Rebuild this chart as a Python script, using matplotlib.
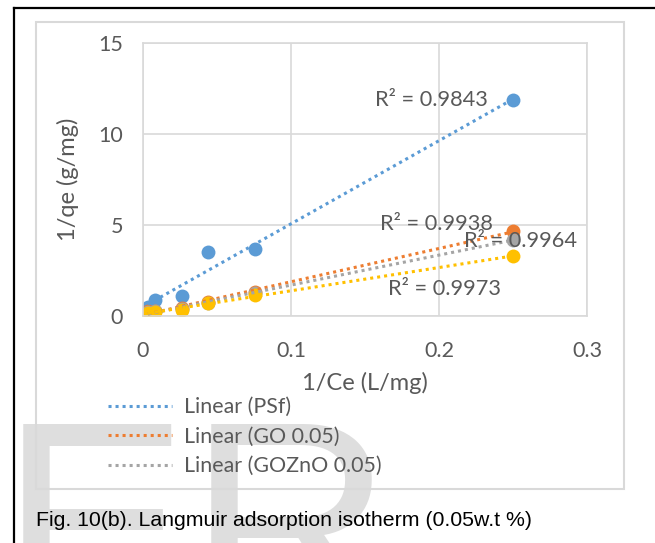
import numpy as np
import matplotlib
matplotlib.use('Agg')
from matplotlib import pyplot as plt
from matplotlib.patches import Rectangle
from matplotlib.lines import Line2D

# data
x = [0.0034, 0.0079, 0.0262, 0.0436, 0.0758, 0.25]
psf = [0.51, 0.88, 1.10, 3.53, 3.66, 11.89]
go = [0.25, 0.30, 0.45, 0.75, 1.33, 4.68]
goznO = [0.20, 0.25, 0.40, 0.72, 1.25, 4.20]
other = [0.18, 0.22, 0.33, 0.70, 1.14, 3.29]

names = ['PSf', 'GO 0.05', 'GOZnO 0.05', 'Series4']
series = [psf, go, goznO, other]
colors = ['#5b9bd5', '#ed7d31', '#a5a5a5', '#ffc000']
r2_text = ['R² = 0.9843', 'R² = 0.9938', 'R² = 0.9964', 'R² = 0.9973']
r2_pos = [(0.195, 11.85), (0.1984, 5.05), (0.2549, 4.13), (0.2035, 1.46)]

plt.rcParams['font.family'] = ['Lato', 'DejaVu Sans']
txt = '#595959'
grid = '#d9d9d9'

fig = plt.figure(figsize=(6.55, 5.43), dpi=100)
fig.patch.set_facecolor('white')

# watermark
fig.text(0.0, -0.14, 'ER', fontsize=204, color='#dedede',
         family='Liberation Sans', ha='left', va='baseline', zorder=0)

ax = fig.add_axes([0.2183, 0.4180, 0.6779, 0.5028])
ax.set_facecolor('none')
ax.set_xlim(0, 0.3)
ax.set_ylim(0, 15)
ax.set_xticks([0, 0.1, 0.2, 0.3])
ax.set_xticklabels(['0', '0.1', '0.2', '0.3'])
ax.set_yticks([0, 5, 10, 15])
ax.grid(True, color=grid, lw=1.2)
ax.set_axisbelow(True)
for s in ax.spines.values():
    s.set_color(grid)
    s.set_linewidth(1.2)
ax.tick_params(length=0, labelsize=15.5, labelcolor=txt)
ax.tick_params(axis='x', pad=18)
ax.tick_params(axis='y', pad=14.5)

xs = np.array(x)
handles = []
for i in range(4):
    ys = np.array(series[i])
    ax.scatter(xs, ys, s=100, color=colors[i], zorder=2 + i * 0.1, linewidths=0)
for i in range(4):
    ys = np.array(series[i])
    k, b = np.polyfit(xs, ys, 1)
    xx = np.array([xs.min(), xs.max()])
    ax.plot(xx, k * xx + b, color=colors[i], lw=2.2, ls=(0, (1, 1.3)), zorder=4)
    handles.append(Line2D([], [], color=colors[i], lw=2.2, ls=(0, (1, 1.3))))
    ax.text(r2_pos[i][0], r2_pos[i][1], r2_text[i], fontsize=15.7, color=txt,
            ha='center', va='center', zorder=5)

ax.set_xlabel('1/Ce (L/mg)', fontsize=17, color=txt, labelpad=8)
ax.set_ylabel('1/qe (g/mg)', fontsize=17, color=txt, labelpad=14)

fig.legend(handles[:3], ['Linear (' + n + ')' for n in names[:3]],
           loc='upper left', bbox_to_anchor=(108 / 655, 1 - 397 / 543),
           frameon=False, fontsize=15.4, labelcolor=txt, handlelength=3.0,
           handletextpad=0.56, labelspacing=0.45, borderpad=0, borderaxespad=0)

# chart box and page frame
fig.patches.append(Rectangle((36 / 655, 1 - 489 / 543), 588 / 655, 467 / 543,
                             transform=fig.transFigure, fill=False,
                             edgecolor=grid, lw=1.5, zorder=1))
fig.add_artist(Line2D([14 / 655, 1], [1 - 8 / 543, 1 - 8 / 543], color='black', lw=1.6,
                      transform=fig.transFigure))
fig.add_artist(Line2D([14 / 655, 14 / 655], [0, 1 - 8 / 543], color='black', lw=1.6,
                      transform=fig.transFigure))

fig.text(36 / 655, 1 - 521 / 543, 'Fig. 10(b). Langmuir adsorption isotherm (0.05w.t %)',
         family='Liberation Sans', fontsize=15.3, color='black', ha='left', va='center')

fig.savefig('out.png', dpi=100)
